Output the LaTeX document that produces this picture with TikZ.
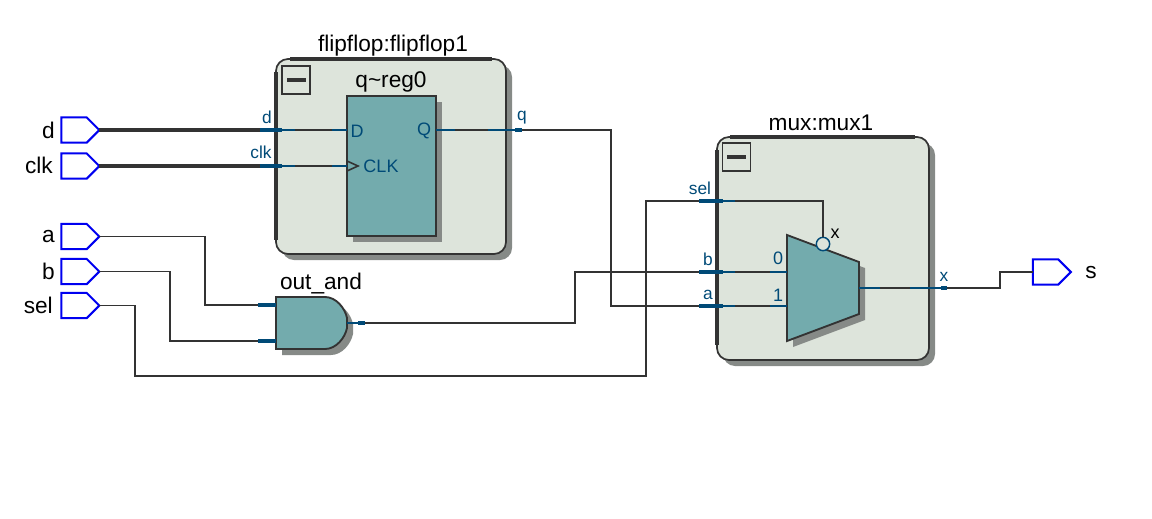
\documentclass[tikz,border=0pt]{standalone}
\usepackage{fontspec}
\setmainfont{Liberation Sans}
\usetikzlibrary{shapes.symbols}
\definecolor{modfill}{HTML}{DDE4DB}
\definecolor{tealfill}{HTML}{73ABAD}
\definecolor{shadowgray}{HTML}{868A87}
\definecolor{wirecol}{HTML}{333333}
\definecolor{portcol}{HTML}{004A77}
\definecolor{pinblue}{HTML}{0000F0}

\begin{document}
\begin{tikzpicture}[x=0.75pt,y=-0.75pt]

\tikzset{pin/.style = {shape=signal,signal to=east,signal from=nowhere,draw=pinblue,line width=1.5pt,minimum width=28.5pt,minimum height=19pt,inner sep=0pt,outer sep=0pt}}
\tikzset{pinlabel/.style = {font=\fontsize{17}{17}\selectfont,text=black,inner sep=0pt}}
\tikzset{modbox/.style = {draw=wirecol,line width=1.3pt,fill=modfill,rounded corners=9pt}}
\tikzset{modshade/.style = {fill=shadowgray,rounded corners=9pt}}
\tikzset{modedge/.style = {draw=wirecol,line width=2.4pt}}
\tikzset{blockbox/.style = {draw=wirecol,line width=1.4pt,fill=tealfill}}
\tikzset{toggle/.style = {draw=wirecol,line width=1.2pt,minimum width=21pt,minimum height=21pt,inner sep=0pt}}
\tikzset{wire/.style = {draw=wirecol,line width=1.2pt}}
\tikzset{bus/.style = {draw=wirecol,line width=2.4pt}}
\tikzset{stub/.style = {draw=portcol,line width=2.4pt}}
\tikzset{portline/.style = {draw=portcol,line width=1.1pt}}
\tikzset{portlabel/.style = {font=\fontsize{13}{13}\selectfont,text=portcol,inner sep=0pt}}
\tikzset{pintext/.style = {font=\fontsize{13.5}{14}\selectfont,text=portcol,inner sep=0pt}}
\tikzset{title/.style = {font=\fontsize{17}{17}\selectfont,text=black,inner sep=0pt}}

\useasboundingbox (0,0) rectangle (1152,518);

%module backgrounds
\fill[modshade] (282,65) rectangle (512,260);
\fill[modshade] (723,143) rectangle (935,366);
\draw[modbox] (276,59) rectangle (506,254);
\draw[modbox] (717,137) rectangle (929,360);
\draw[modedge] (290,59) -- (492,59);
\draw[modedge] (276,72) -- (276,240);
\draw[modedge] (730,137) -- (915,137);
\draw[modedge] (717,150) -- (717,345);
\node[toggle] (toggle1) at (296,80) {};
\node[toggle] (toggle2) at (736.5,157) {};
\draw[wirecol,line width=3pt] (287,80) -- (306,80);
\draw[wirecol,line width=3pt] (727,157) -- (746,157);
\node[title] (fftitle) at (393,46) {flipflop:flipflop1};
\node[title] (muxtitle) at (821,123) {mux:mux1};

%blocks
\fill[shadowgray] (353,102) rectangle (442,242);
\node[blockbox,minimum width=66.75pt,minimum height=105pt,inner sep=0pt,outer sep=0pt] (reg) at (391.5,166) {};
\node[title] (regtitle) at (391,82) {q\textasciitilde reg0};
\fill[shadowgray] (282,303) -- (331,303) .. controls (342,303) and (351,314) .. (353,324)
  -- (353,334) .. controls (351,344) and (342,355) .. (331,355) -- (282,355) -- cycle;
\draw[blockbox] (276,297) -- (325,297) .. controls (336,297) and (345,308) .. (347,318)
  -- (347,328) .. controls (345,338) and (336,349) .. (325,349) -- (276,349) -- cycle;
\node[title] (gatetitle) at (321,284) {out\_and};
\fill[shadowgray] (793,241) -- (865,268) -- (865,320) -- (793,347) -- cycle;
\draw[blockbox] (787,235) -- (859,262) -- (859,314) -- (787,341) -- cycle;

%pins
\node[pin] (d) at (74,130) {};
\node[pin] (clk) at (74,166) {};
\node[pin] (a) at (74,236.5) {};
\node[pin] (b) at (74,271.5) {};
\node[pin] (sel) at (74,305.5) {};
\node[pin] (s) at (1045.5,272) {};
\node[pinlabel,anchor=east] (dlabel) at (55,130) {d};
\node[pinlabel,anchor=east] (clklabel) at (53,165) {clk};
\node[pinlabel,anchor=east] (alabel) at (55,236.5) {a};
\node[pinlabel,anchor=east] (blabel) at (55,271.5) {b};
\node[pinlabel,anchor=east] (sellabel) at (53,305.5) {sel};
\node[pinlabel,anchor=west] (slabel) at (1085,273) {s};

%ports
\coordinate (regd) at (347,130);
\coordinate (regclk) at (347,166);
\coordinate (regq) at (436,130);
\coordinate (gatea) at (276,305);
\coordinate (gateb) at (276,341);
\coordinate (gateout) at (347,323);
\coordinate (muxb) at (787,272);
\coordinate (muxa) at (787,306);
\coordinate (muxx) at (859,288);
\node[circle,draw=portcol,line width=1.1pt,fill=modfill,minimum size=10pt,inner sep=0pt] (muxsel) at (823,244) {};

%edges
\draw[bus] (d.east) -- (280,130);
\draw[bus] (clk.east) -- (280,166);
\draw[wirecol,line width=1.2pt] (280,130) -- (regd);
\draw[wirecol,line width=1.2pt] (280,166) -- (regclk);
\draw[wire] (regq) -- (611,130) -- (611,306) -- (muxa);
\draw[wire] (a.east) -| (205,305) -- (gatea);
\draw[wire] (b.east) -| (170,341) -- (gateb);
\draw[wire] (sel.east) -| (135,376) -| (646,201) -| (muxsel.north);
\draw[wire] (gateout) -- (575,323) |- (muxb);
\draw[wire] (muxx) -- (1000,288) |- (s.west);

%port stubs
\draw[stub] (260,130) -- (282,130);
\draw[stub] (260,166) -- (282,166);
\draw[portline] (282,130) -- (295,130) (332,130) -- (regd);
\draw[portline] (282,166) -- (295,166) (332,166) -- (regclk);
\draw[portline] (regq) -- (455,130);
\draw[portline] (488,130) -- (515,130);
\draw[stub] (515,130) -- (522,130);
\draw[stub] (258,305) -- (gatea);
\draw[stub] (258,341) -- (gateb);
\draw[portline] (gateout) -- (358,323);
\draw[stub] (358,323) -- (365,323);
\draw[stub] (699,201) -- (723,201);
\draw[stub] (699,272) -- (723,272);
\draw[stub] (699,306) -- (723,306);
\draw[portline] (723,201) -- (735,201);
\draw[portline] (723,272) -- (735,272);
\draw[portline] (723,306) -- (735,306);
\draw[portline] (770,272) -- (muxb);
\draw[portline] (770,306) -- (muxa);
\draw[portline] (muxx) -- (880,288);
\draw[portline] (910,288) -- (941,288);
\draw[stub] (941,288) -- (947,288);
\draw[wirecol,line width=1.2pt] (347,161) -- (358,166) -- (347,171);

%port labels
\node[portlabel] (dport) at (267,117) {d};
\node[portlabel] (clkport) at (261,152) {clk};
\node[portlabel] (qport) at (522,118) {q};
\node[portlabel] (selport) at (700,188) {sel};
\node[portlabel] (bport) at (708,259) {b};
\node[portlabel] (aport) at (708,295) {a};
\node[portlabel] (xport) at (944,277) {x};
\node[pintext] (dtext) at (357,131) {D};
\node[pintext] (clktext) at (381,166) {CLK};
\node[pintext] (qtext) at (424,131) {Q};
\node[pintext] (zerotext) at (778,258) {0};
\node[pintext] (onetext) at (778,295) {1};
\node[font=\fontsize{13.5}{14}\selectfont,inner sep=0pt] (xtext) at (835,234) {x};

\end{tikzpicture}
\end{document}
